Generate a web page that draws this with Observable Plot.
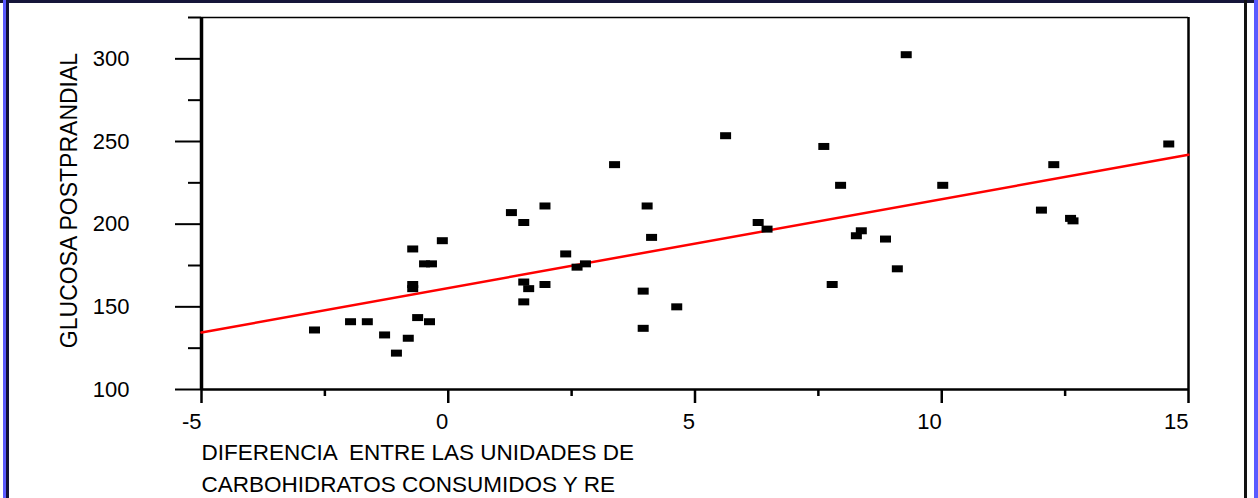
<!DOCTYPE html>
<html><head><meta charset="utf-8">
<script src="https://cdn.jsdelivr.net/npm/d3@7"></script>
<script src="https://cdn.jsdelivr.net/npm/@observablehq/plot@0.6"></script>
<style>
html,body{margin:0;padding:0;background:#fff;}
#wrap{position:relative;width:1258px;height:498px;overflow:hidden;background:#fff;}
#chart{position:absolute;left:0;top:0;}
svg text{white-space:pre;}
.b{position:absolute;}
</style></head><body>
<div id="wrap">
  <div id="chart"></div>
  <div class="b" style="left:0;top:0;width:1258px;height:3px;background:#16163a"></div>
  <div class="b" style="left:3px;top:0;width:3px;height:498px;background:#5a5aff"></div>
  <div class="b" style="left:6px;top:0;width:3px;height:498px;background:#10103a"></div>
  <div class="b" style="left:1244px;top:0;width:3px;height:498px;background:#111"></div>
  <div class="b" style="left:1254px;top:0;width:4px;height:498px;background:#5a5aff"></div>
</div>
<script>
const xDiff = [-2.71, -1.98, -1.64, -1.29, -1.05, -0.81, -0.72, -0.72, -0.72, -0.62, -0.48, -0.34, -0.38, -0.12,
  1.28, 1.96, 1.53, 3.37, 4.03, 4.12, 2.38, 2.61, 2.78, 1.53, 1.63, 1.96, 1.53, 3.95, 4.63, 3.95,
  5.62, 7.61, 7.95, 6.28, 6.46, 8.27, 8.37, 8.86, 9.10, 7.78, 9.28, 10.02, 12.27, 12.02, 12.61, 12.66, 14.60];
const yGluc = [136, 141, 141, 133, 122, 131, 185, 163.5, 161, 143.5, 176, 176, 141, 190,
  207, 211, 201, 236, 211, 192, 182, 174, 176, 165, 161, 163.5, 153, 159.5, 150, 137,
  253.5, 247, 223.5, 201, 197, 193, 196, 191, 173, 163.5, 302.5, 223.5, 236, 208.5, 203.5, 202, 248.5];
const fitX = [-5, 15];
const fitY = [134.5, 242];
const xTicks = [-5, 0, 5, 10, 15];
const xMinor = [-2.5, 2.5, 7.5, 12.5];
const yTicks = [100, 150, 200, 250, 300];
const yMinor = [125, 175, 225, 275, 325];
const xTitle = "DIFERENCIA  ENTRE LAS UNIDADES DE\nCARBOHIDRATOS CONSUMIDOS Y RE";
const yTitle = "GLUCOSA POSTPRANDIAL";

const points = xDiff.map((x, i) => ({x, y: yGluc[i]}));
const fit = fitX.map((x, i) => ({x, y: fitY[i]}));
const rectSymbol = {draw(ctx, size) {
  ctx.moveTo(-5.5, -3.5); ctx.lineTo(5.5, -3.5); ctx.lineTo(5.5, 3.5); ctx.lineTo(-5.5, 3.5); ctx.closePath();
}};

const chart = Plot.plot({
  width: 1258, height: 498,
  marginLeft: 201, marginRight: 70, marginTop: 17, marginBottom: 109,
  x: {domain: [-5, 15], label: null},
  y: {domain: [100, 325], label: null},
  style: {fontFamily: "'Liberation Sans', Arial, sans-serif", background: "transparent", color: "#000"},
  marks: [
    Plot.axisX(xTicks, {tickSize: 14, tickPadding: 10, strokeWidth: 2.5, fontSize: 22, textAnchor: "end", tickFormat: d => String(d), label: null}),
    Plot.axisX(xMinor, {tickSize: 7, strokeWidth: 2.5, tickFormat: () => "", label: null}),
    Plot.axisY(yTicks, {tickSize: 26, tickPadding: 46, strokeWidth: 2, fontSize: 22, tickFormat: d => String(d), label: null}),
    Plot.axisY(yMinor, {tickSize: 13, strokeWidth: 2, tickFormat: () => "", label: null}),
    Plot.ruleX([-5], {strokeWidth: 3.5}),
    Plot.ruleX([15], {strokeWidth: 2.5}),
    Plot.ruleY([100], {strokeWidth: 2.5}),
    Plot.ruleY([325], {strokeWidth: 1.5}),
    Plot.line(fit, {x: "x", y: "y", stroke: "#ff0000", strokeWidth: 2.5}),
    Plot.dot(points, {x: "x", y: "y", symbol: rectSymbol, fill: "#000", stroke: "none"}),
    Plot.text([xTitle], {frameAnchor: "bottom-left", textAnchor: "start", lineAnchor: "top", lineHeight: 1.44, dy: 47, fontSize: 22.5, text: d => d}),
    Plot.text([yTitle], {frameAnchor: "left", rotate: -90, textAnchor: "middle", lineAnchor: "top", dx: -141, dy: -3, fontSize: 23, text: d => d})
  ]
});
document.getElementById("chart").appendChild(chart);
</script>
</body></html>
